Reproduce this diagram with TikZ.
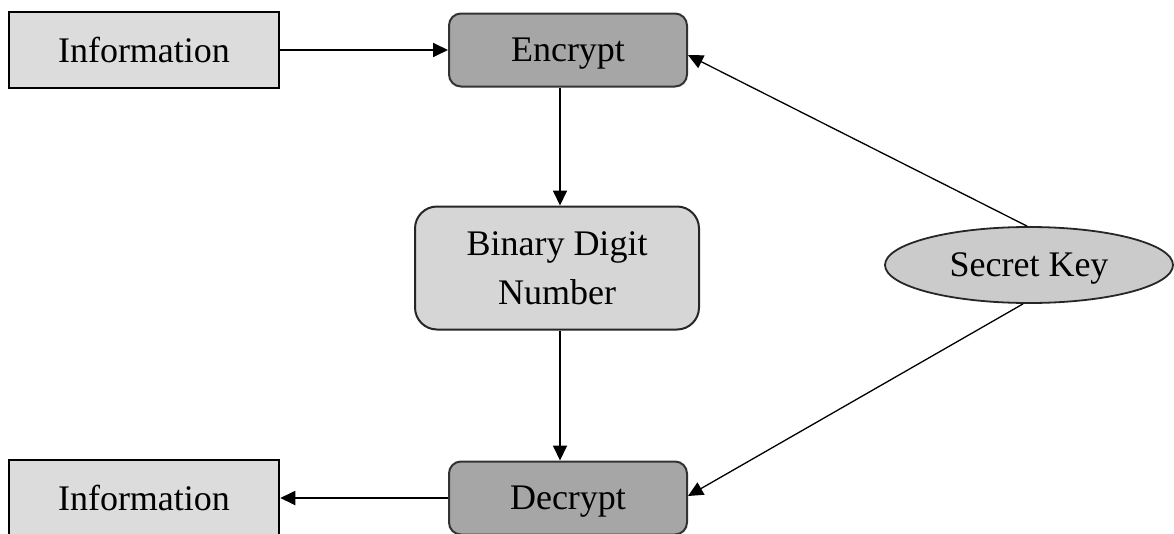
\documentclass[tikz,border=0pt]{standalone}
\usepackage{fontspec}
\setmainfont{Liberation Serif}
\usetikzlibrary{arrows.meta,shapes.geometric,calc}
\begin{document}
\begin{tikzpicture}[x=1pt,y=-1pt,
  every node/.style={font=\fontsize{36}{49}\selectfont, align=center, inner sep=0pt},
  infobox/.style={draw=black, line width=2.5pt, fill=infofill, minimum width=270pt, minimum height=76pt},
  cryptbox/.style={draw=black!80, line width=2pt, fill=cryptfill, rounded corners=12pt, minimum width=238pt, minimum height=73pt, text depth=0pt},
  binbox/.style={draw=black!85, line width=2pt, fill=binfill, rounded corners=22pt, minimum width=284pt, minimum height=123pt},
  keybox/.style={ellipse, draw=black!85, line width=1.8pt, fill=keyfill, minimum width=288pt, minimum height=76pt, text depth=0pt},
  arr/.style={line width=1.8pt, -{Triangle[length=15pt,width=14pt]}},
  thinarr/.style={line width=1.3pt, -{Triangle[length=15pt,width=14pt]}}
]
\definecolor{infofill}{HTML}{DCDCDC}
\definecolor{cryptfill}{HTML}{A6A6A6}
\definecolor{binfill}{HTML}{D6D6D6}
\definecolor{keyfill}{HTML}{CBCBCB}
\useasboundingbox (0,0) rectangle (1174,533);
\clip (0,0) rectangle (1174,533);

\node[infobox] (info1) at (144,50) {Information};
\node[cryptbox] (enc) at (568,50) {Encrypt};
\node[binbox] (bin) at (557,268) {Binary Digit\\Number};
\node[keybox] (key) at (1029,265) {Secret Key};
\node[infobox] (info2) at (144,498) {Information};
\node[cryptbox] (dec) at (568,498) {Decrypt};

\draw[arr] (info1.east) -- (enc.west);
\draw[arr] ([xshift=-8pt]enc.south) -- ([xshift=-8pt]enc.south |- bin.north);
\draw[arr] ([xshift=-8pt]enc.south |- bin.south) -- ([xshift=-8pt]dec.north);
\draw[arr] (dec.west) -- (info2.east);
\draw[thinarr] ([xshift=-2pt]key.north) -- ([yshift=-5pt]enc.east);
\draw[thinarr] ([xshift=-6pt]key.south) -- ([yshift=2pt]dec.east);
\end{tikzpicture}
\end{document}
